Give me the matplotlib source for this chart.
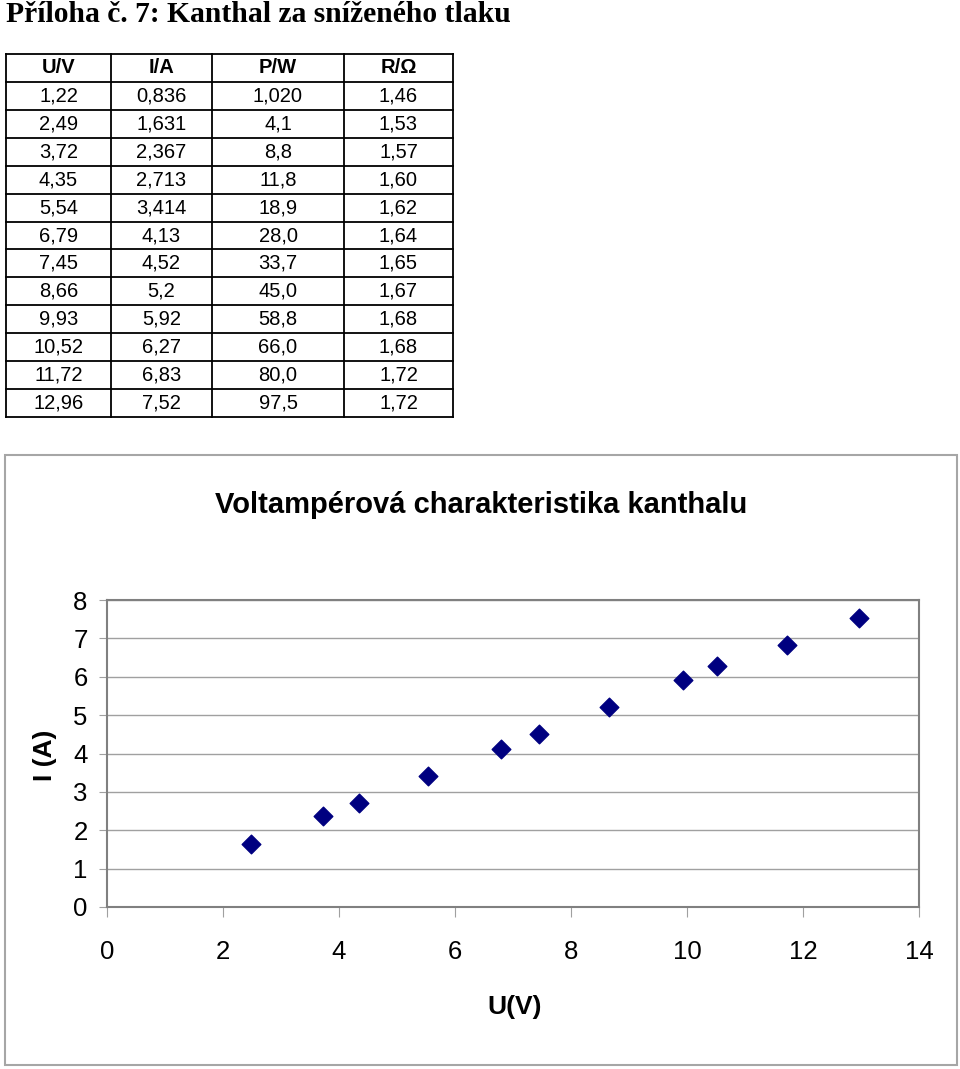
import matplotlib.pyplot as plt
from matplotlib.patches import Rectangle

# Data from the table
U = [1.22, 2.49, 3.72, 4.35, 5.54, 6.79, 7.45, 8.66, 9.93, 10.52, 11.72, 12.96]
I = [0.836, 1.631, 2.367, 2.713, 3.414, 4.13, 4.52, 5.2, 5.92, 6.27, 6.83, 7.52]
P = ["1,020", "4,1", "8,8", "11,8", "18,9", "28,0", "33,7", "45,0", "58,8", "66,0", "80,0", "97,5"]
R = ["1,46", "1,53", "1,57", "1,60", "1,62", "1,64", "1,65", "1,67", "1,68", "1,68", "1,72", "1,72"]
U_txt = ["1,22", "2,49", "3,72", "4,35", "5,54", "6,79", "7,45", "8,66", "9,93", "10,52", "11,72", "12,96"]
I_txt = ["0,836", "1,631", "2,367", "2,713", "3,414", "4,13", "4,52", "5,2", "5,92", "6,27", "6,83", "7,52"]
headers = ["U/V", "I/A", "P/W", "R/Ω"]

W, H = 960, 1069
fig = plt.figure(figsize=(W / 100, H / 100), dpi=100)

def fx(px):
    return px / W

def fy(py):
    return 1 - py / H

# Page title
fig.text(fx(6), fy(14), "Příloha č. 7: Kanthal za sníženého tlaku",
         family="Liberation Serif", weight="bold", fontsize=21.3, va="center", ha="left")

# Table
tax = fig.add_axes([0, 0, 1, 1])
tax.set_xlim(0, W)
tax.set_ylim(H, 0)
tax.axis("off")
cols = [6, 111, 212, 344, 453]
top, bottom = 54, 417
nrows = len(U) + 1
rh = (bottom - top) / nrows
for c in cols:
    tax.plot([c, c], [top, bottom], color="black", lw=1.3)
for r in range(nrows + 1):
    y = top + r * rh
    tax.plot([cols[0], cols[-1]], [y, y], color="black", lw=1.3)
rows = [headers] + [list(t) for t in zip(U_txt, I_txt, P, R)]
for r, row in enumerate(rows):
    for c, txt in enumerate(row):
        xc = (cols[c] + cols[c + 1]) / 2
        yc = top + (r + 0.5) * rh
        tax.text(xc, yc, txt, ha="center", va="center", fontsize=14.5,
                 family="Liberation Sans", weight="bold" if r == 0 else "normal")

# Chart frame
tax.add_patch(Rectangle((5, 455), 952, 610, fill=False, edgecolor="#a6a6a6", lw=1.5))
tax.text(481, 505, "Voltampérová charakteristika kanthalu", ha="center", va="center",
         family="Liberation Sans", weight="bold", fontsize=21)

# Scatter plot
ax = fig.add_axes([fx(107), fy(907), fx(919) - fx(107), fy(600) - fy(907)])
ax.scatter(U[1:], I[1:], marker="D", s=90, color="#000080", zorder=3)
ax.set_xlim(0, 14)
ax.set_ylim(0, 8)
ax.set_xticks(range(0, 15, 2))
ax.set_yticks(range(0, 9))
ax.grid(axis="y", color="#a0a0a0", lw=1)
ax.set_axisbelow(True)
for s in ax.spines.values():
    s.set_color("#808080")
    s.set_linewidth(1.5)
ax.tick_params(axis="x", length=7, color="#a0a0a0", pad=17, labelsize=18.5)
ax.tick_params(axis="y", length=6, color="#a0a0a0", pad=8, labelsize=18.5)
for lab in ax.get_xticklabels() + ax.get_yticklabels():
    lab.set_family("Liberation Sans")
fig.text(fx(45), fy(755), "I (A)", rotation=90, ha="center", va="center",
         family="Liberation Sans", weight="bold", fontsize=19)
fig.text(fx(515), fy(1007), "U(V)", ha="center", va="center",
         family="Liberation Sans", weight="bold", fontsize=19)

fig.savefig("out.png", dpi=100)
